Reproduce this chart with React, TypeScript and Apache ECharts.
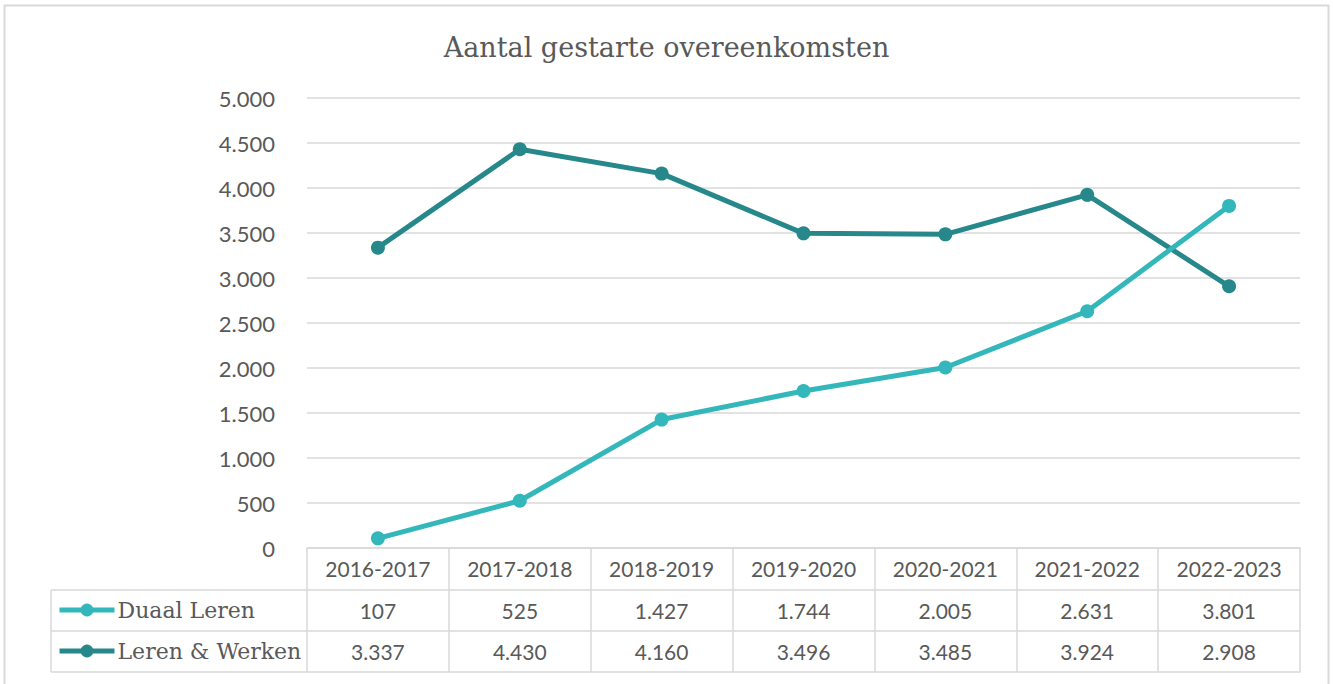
import React, { useEffect, useRef } from "react";
import * as echarts from "echarts";

const years = ["2016-2017", "2017-2018", "2018-2019", "2019-2020", "2020-2021", "2021-2022", "2022-2023"];
const duaalLeren = [107, 525, 1427, 1744, 2005, 2631, 3801];
const lerenWerken = [3337, 4430, 4160, 3496, 3485, 3924, 2908];
const seriesNames = ["Duaal Leren", "Leren & Werken"];
const seriesColors = ["#33B7BB", "#26888B"];
const yMin = 0;
const yMax = 5000;
const yStep = 500;
const titleText = "Aantal gestarte overeenkomsten";

const fmt = (v: number) => String(v).replace(/\B(?=(\d{3})+(?!\d))/g, ".");

const GRID_LEFT = 307;
const GRID_RIGHT_X = 1300;
const GRID_TOP = 98;
const AXIS_Y = 548;
const ROW1 = 42;
const ROW2 = 83;
const ROW3 = 124;
const TABLE_LEFT = 51;
const LINE_C = "#D9D9D9";
const TEXT_C = "#595959";
const NUM_FONT = "Lato";
const SERIF_FONT = "DejaVu Serif";

export default function App() {
  const ref = useRef<HTMLDivElement>(null);
  useEffect(() => {
    if (!ref.current) return;
    const chart = echarts.init(ref.current, null, { renderer: "svg" });
    const labelBase = { color: TEXT_C, fontFamily: NUM_FONT, fontSize: 21, margin: 10 };
    const option: any = {
      animation: false,
      backgroundColor: "#fff",
      title: {
        text: titleText,
        left: "center",
        top: 29,
        textStyle: { color: TEXT_C, fontFamily: SERIF_FONT, fontSize: 27, fontWeight: "normal" },
      },
      legend: [0, 1].map((i) => ({
        data: [seriesNames[i]],
        left: 57,
        top: i === 0 ? 599 : 640,
        padding: 0,
        itemWidth: 55,
        itemHeight: 16,
        textStyle: { color: TEXT_C, fontFamily: SERIF_FONT, fontSize: 22, padding: [0, 0, 0, -2] },
        lineStyle: { width: 5 },
      })),
      grid: { left: GRID_LEFT, right: 1333 - GRID_RIGHT_X, top: GRID_TOP, height: AXIS_Y - GRID_TOP, containLabel: false },
      xAxis: [
        {
          type: "category",
          data: years,
          position: "bottom",
          axisLine: { lineStyle: { color: LINE_C, width: 1.5 } },
          axisTick: { show: true, length: ROW3, lineStyle: { color: LINE_C, width: 1.5 } },
          axisLabel: { ...labelBase },
        },
        {
          type: "category",
          data: duaalLeren.map(fmt),
          position: "bottom",
          offset: ROW1,
          axisLine: { lineStyle: { color: LINE_C, width: 1.5 } },
          axisTick: { show: false },
          axisLabel: { ...labelBase },
        },
        {
          type: "category",
          data: lerenWerken.map(fmt),
          position: "bottom",
          offset: ROW2,
          axisLine: { lineStyle: { color: LINE_C, width: 1.5 } },
          axisTick: { show: false },
          axisLabel: { ...labelBase },
        },
        {
          type: "category",
          data: years.map(() => ""),
          position: "bottom",
          offset: ROW3,
          axisLine: { lineStyle: { color: LINE_C, width: 1.5 } },
          axisTick: { show: false },
          axisLabel: { show: false },
        },
      ],
      yAxis: {
        type: "value",
        min: yMin,
        max: yMax,
        interval: yStep,
        axisLine: { show: false },
        axisTick: { show: false },
        splitLine: { lineStyle: { color: LINE_C, width: 1.5 } },
        axisLabel: { color: TEXT_C, fontFamily: NUM_FONT, fontSize: 22, margin: 32, formatter: (v: number) => fmt(v) },
      },
      series: [duaalLeren, lerenWerken].map((d, i) => ({
        name: seriesNames[i],
        type: "line",
        xAxisIndex: 0,
        data: d,
        color: seriesColors[i],
        symbol: "circle",
        symbolSize: 14,
        lineStyle: { width: 5, color: seriesColors[i] },
        itemStyle: { color: seriesColors[i] },
        z: i === 0 ? 3 : 2,
      })),
      graphic: [
        {
          type: "rect",
          shape: { x: 4.5, y: 5.5, width: 1324, height: 700 },
          style: { fill: "none", stroke: LINE_C, lineWidth: 2 },
          silent: true,
        },
        ...[ROW1, ROW2, ROW3].map((o) => ({
          type: "line",
          shape: { x1: TABLE_LEFT, y1: AXIS_Y + o, x2: GRID_LEFT, y2: AXIS_Y + o },
          style: { stroke: LINE_C, lineWidth: 1.5 },
          silent: true,
        })),
        {
          type: "line",
          shape: { x1: TABLE_LEFT, y1: AXIS_Y + ROW1, x2: TABLE_LEFT, y2: AXIS_Y + ROW3 },
          style: { stroke: LINE_C, lineWidth: 1.5 },
          silent: true,
        },
      ],
    };
    chart.setOption(option);
    return () => chart.dispose();
  }, []);
  return <div ref={ref} style={{ position: "absolute", left: 0, top: 0, width: 1333, height: 684 }} />;
}
